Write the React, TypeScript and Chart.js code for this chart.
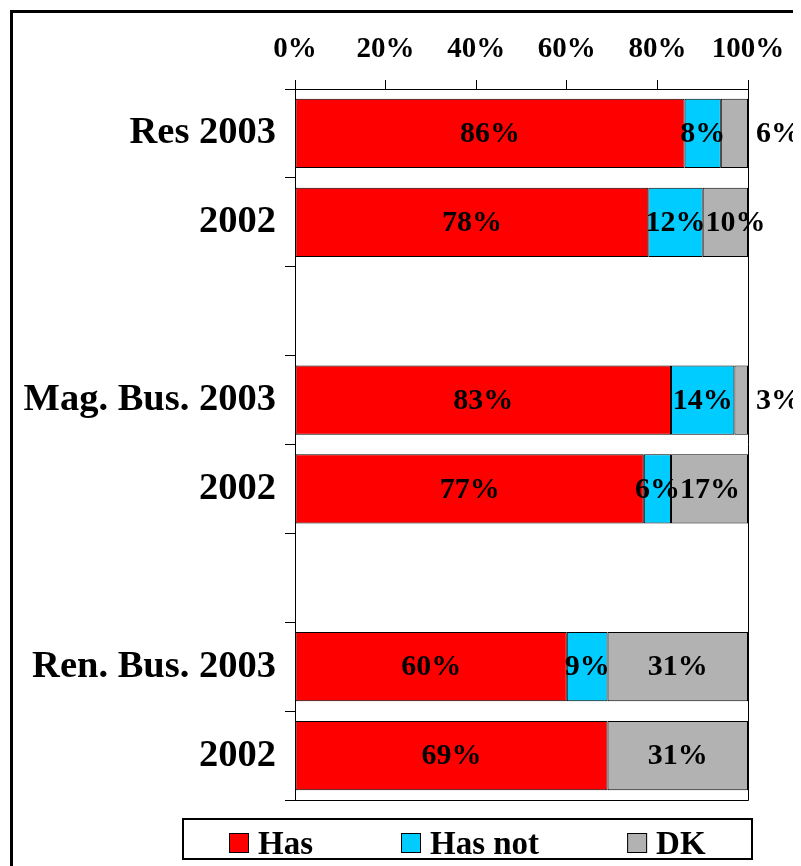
import React, { useEffect, useRef } from "react";
import { Chart, registerables } from "chart.js";

Chart.register(...registerables);

const categories = ["Res 2003", "2002", "", "Mag. Bus. 2003", "2002", "", "Ren. Bus. 2003", "2002"];
const hasValues = [86, 78, null, 83, 77, null, 60, 69];
const hasNotValues = [8, 12, null, 14, 6, null, 9, null];
const dkValues = [6, 10, null, 3, 17, null, 31, 31];
const seriesNames = ["Has", "Has not", "DK"];
const xTickValues = [0, 20, 40, 60, 80, 100];

const FONT = "'Liberation Serif', 'Times New Roman', Times, serif";
const COLORS = ["#FF0000", "#00CCFF", "#B2B2B2"];

const framePlugin = {
  id: "frame",
  afterDatasetsDraw(chart: any) {
    const { ctx, chartArea: a } = chart;
    ctx.save();
    ctx.strokeStyle = "#000";
    ctx.lineWidth = 1;
    const r = Math.round(a.right) + 0.5;
    const b = Math.round(a.bottom) + 0.5;
    ctx.beginPath();
    ctx.moveTo(r, a.top);
    ctx.lineTo(r, b);
    ctx.lineTo(a.left, b);
    ctx.stroke();
    ctx.restore();
  },
};

const valueLabelPlugin = {
  id: "valueLabels",
  afterDatasetsDraw(chart: any) {
    const ctx = chart.ctx;
    ctx.save();
    ctx.font = `bold 30px ${FONT}`;
    ctx.fillStyle = "#000";
    ctx.textAlign = "center";
    ctx.textBaseline = "middle";
    const n = chart.data.labels.length;
    const last = chart.data.datasets.length - 1;
    for (let j = 0; j < n; j++) {
      let prevRight = -Infinity;
      chart.data.datasets.forEach((ds: any, i: number) => {
        const v = ds.data[j];
        if (v == null) return;
        const el = chart.getDatasetMeta(i).data[j];
        const { x, base, y } = el.getProps(["x", "base", "y"], true);
        const text = v + "%";
        const w = ctx.measureText(text).width;
        const seg = Math.abs(x - base);
        let cx = (x + base) / 2;
        if (i === last && seg < 0.7 * w) cx = Math.max(x, base) + 8 + w / 2;
        if (cx - w / 2 < prevRight) cx = prevRight + w / 2;
        ctx.fillText(text, cx, y + 1);
        prevRight = cx + w / 2;
      });
    }
    ctx.restore();
  },
};

const legendPlugin = {
  id: "legendBox",
  afterDraw(chart: any) {
    const { ctx, chartArea: a } = chart;
    const top = Math.round(a.bottom) + 19;
    const h = 40;
    const left = Math.round(a.left) - 112;
    const right = Math.round(a.right) + 4;
    ctx.save();
    ctx.strokeStyle = "#000";
    ctx.lineWidth = 2;
    ctx.strokeRect(left, top, right - left, h);
    ctx.font = `bold 33px ${FONT}`;
    const items = chart.data.datasets.map((ds: any) => ({
      text: ds.label,
      color: ds.backgroundColor,
      w: ctx.measureText(ds.label).width,
    }));
    const sq = 20;
    const gapText = 9;
    const gapItem = 88;
    const total =
      items.reduce((s: number, it: any) => s + sq + gapText + it.w, 0) + gapItem * (items.length - 1);
    let x = Math.round((left + right) / 2 - total / 2);
    const cy = top + 24;
    items.forEach((it: any) => {
      ctx.fillStyle = it.color;
      ctx.fillRect(x, cy - 10, sq, sq);
      ctx.lineWidth = 1;
      ctx.strokeStyle = "#000";
      ctx.strokeRect(x + 0.5, cy - 10 + 0.5, sq - 1, sq - 1);
      ctx.fillStyle = "#000";
      ctx.textAlign = "left";
      ctx.textBaseline = "alphabetic";
      ctx.fillText(it.text, x + sq + gapText, cy + 10.5);
      x += sq + gapText + it.w + gapItem;
    });
    ctx.restore();
  },
};

export default function App() {
  const ref = useRef<HTMLCanvasElement>(null);

  useEffect(() => {
    document.documentElement.style.overflow = "hidden";
    document.body.style.overflow = "hidden";
    const canvas = ref.current;
    if (!canvas) return;
    const mk = (i: number, data: (number | null)[]) => ({
      label: seriesNames[i],
      data,
      backgroundColor: COLORS[i],
      borderColor: "#000",
      borderWidth: 1,
      borderSkipped: false,
      barPercentage: 0.78,
      categoryPercentage: 1,
    });
    const chart = new Chart(canvas, {
      type: "bar",
      data: {
        labels: categories,
        datasets: [mk(0, hasValues), mk(1, hasNotValues), mk(2, dkValues)] as any,
      },
      options: {
        indexAxis: "y",
        responsive: false,
        animation: false,
        devicePixelRatio: 1,
        layout: { padding: { left: 0, top: 0, right: 53, bottom: 66 } },
        plugins: { legend: { display: false }, tooltip: { enabled: false } },
        scales: {
          x: {
            type: "linear",
            position: "top",
            stacked: true,
            min: 0,
            max: 100,
            afterBuildTicks: (s: any) => {
              s.ticks = xTickValues.map((v) => ({ value: v }));
            },
            ticks: {
              callback: (v: any) => v + "%",
              font: { family: FONT, size: 29, weight: "bold" },
              color: "#000",
              padding: 13,
              maxRotation: 0,
              autoSkip: false,
            },
            grid: { drawOnChartArea: false, drawTicks: true, tickLength: 9, color: "#000", lineWidth: 1 },
            border: { display: true, color: "#000", width: 1 },
            afterFit: (s: any) => {
              s.height = 81;
            },
          },
          y: {
            type: "category",
            stacked: true,
            ticks: {
              font: { family: FONT, size: 38.5, weight: "bold" },
              color: "#000",
              padding: 9,
              autoSkip: false,
            },
            grid: { offset: true, drawOnChartArea: false, drawTicks: true, tickLength: 10, color: "#000" },
            border: { display: true, color: "#000", width: 1 },
            afterFit: (s: any) => {
              s.width = 287;
            },
          },
        },
      } as any,
      plugins: [framePlugin, valueLabelPlugin, legendPlugin],
    });
    return () => chart.destroy();
  }, []);

  return (
    <div style={{ position: "relative", width: 793, height: 858, overflow: "hidden", background: "#fff" }}>
      <div
        style={{
          position: "absolute",
          left: 2,
          top: 2,
          width: 1200,
          height: 1200,
          border: "3px solid #000",
          boxSizing: "border-box",
        }}
      />
      <canvas
        ref={ref}
        width={793}
        height={858}
        style={{ position: "absolute", left: 0, top: 0, width: 793, height: 858 }}
      />
    </div>
  );
}
